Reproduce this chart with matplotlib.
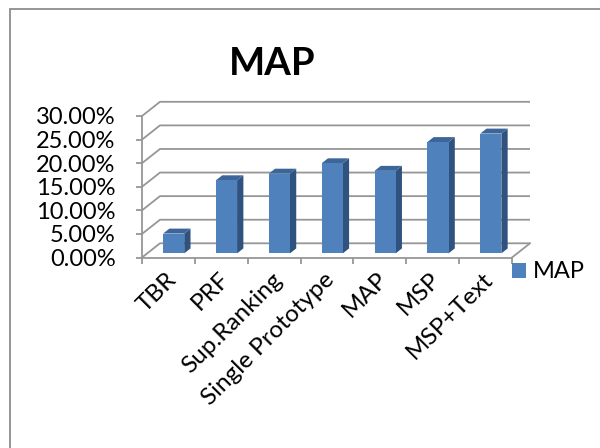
import matplotlib
matplotlib.use('Agg')
import matplotlib.pyplot as plt
from matplotlib.patches import Polygon, Rectangle
import numpy as np

categories = ['TBR', 'PRF', 'Sup.Ranking', 'Single Prototype', 'MAP', 'MSP', 'MSP+Text']
map_values = [4.2, 15.5, 16.9, 19.1, 17.5, 23.6, 25.4]
y_ticks = [0, 5, 10, 15, 20, 25, 30]
y_tick_labels = [f'{v:.2f}%' for v in y_ticks]
series_name = 'MAP'
title_text = 'MAP'

plt.rcParams['font.family'] = ['Lato', 'DejaVu Sans']

W, H = 600, 448
fig = plt.figure(figsize=(6, 4.48), dpi=100)

ax = fig.add_axes([142 / W, 1 - 257.5 / H, 370 / W, 141.5 / H])
n = len(categories)
ax.set_xlim(0, n)
ax.set_ylim(0, 30)
ax.set_facecolor('none')

DX, DY = 0.3405, 3.01   # full floor depth, data units
d0, d1 = 0.29, 0.64     # bar depth range
bw = 0.4
grid_c = '#969696'
lw = 1.3
front_c, side_c, top_c = '#4F81BD', '#30527F', '#3C6699'

# walls: left wall diagonals + back wall horizontals
for v in y_ticks:
    ax.plot([0, DX, n + DX], [v, v + DY, v + DY], color=grid_c, lw=lw,
            clip_on=False, zorder=1, solid_capstyle='butt')
# floor right edge
ax.plot([n, n + DX], [0, DY], color=grid_c, lw=lw, clip_on=False, zorder=1)

# bars
x = np.arange(n) + 0.5
ox0, oy0 = d0 * DX, d0 * DY
ddx, ddy = (d1 - d0) * DX, (d1 - d0) * DY
bars = ax.bar(x + ox0, map_values, width=bw, bottom=oy0, color=front_c,
              zorder=4, label=series_name, clip_on=False)
for xi, v in zip(x, map_values):
    xl = xi - bw / 2 + ox0
    xr = xl + bw
    yb = oy0
    yt = oy0 + v
    side = Polygon([(xr, yb), (xr + ddx, yb + ddy), (xr + ddx, yt + ddy), (xr, yt)],
                   closed=True, facecolor=side_c, edgecolor='none', zorder=3, clip_on=False)
    top = Polygon([(xl, yt), (xr, yt), (xr + ddx, yt + ddy), (xl + ddx, yt + ddy)],
                  closed=True, facecolor=top_c, edgecolor='none', zorder=3, clip_on=False)
    ax.add_patch(side)
    ax.add_patch(top)

# spines
for s in ['top', 'right']:
    ax.spines[s].set_visible(False)
for s in ['left', 'bottom']:
    ax.spines[s].set_color(grid_c)
    ax.spines[s].set_linewidth(lw)

# y axis
ax.set_yticks(y_ticks)
ax.set_yticklabels(y_tick_labels)
ax.tick_params(axis='y', direction='out', length=4, width=lw, color=grid_c,
               pad=15, labelsize=17, labelcolor='black')

# x axis
ax.set_xticks(np.arange(n + 1))
ax.set_xticklabels([''] * (n + 1))
ax.tick_params(axis='x', which='major', direction='out', length=4, width=lw, color=grid_c)
ax.set_xticks(x - 0.06, minor=True)
ax.set_xticklabels(categories, minor=True, rotation=45, ha='right', va='top',
                   rotation_mode='anchor', fontsize=17.5)
ax.tick_params(axis='x', which='minor', length=0, pad=8)

# legend
leg = fig.legend(handles=[bars], labels=[series_name], loc='center left',
                 bbox_to_anchor=(512 / W, 1 - 272 / H), frameon=False, fontsize=17,
                 handlelength=0.6, handleheight=0.6, handletextpad=0.3,
                 borderpad=0, borderaxespad=0)

# title
fig.text(272 / W, 1 - 75 / H, title_text, ha='center', va='baseline',
         fontsize=27.5, fontweight='bold')

# chart frame
fig.add_artist(Rectangle((10 / W, -0.1), 1.0, 1 - 9 / H + 0.1, transform=fig.transFigure,
                         fill=False, ec='#8C8C8C', lw=1.3, clip_on=False))

fig.savefig('out.png', dpi=100)
